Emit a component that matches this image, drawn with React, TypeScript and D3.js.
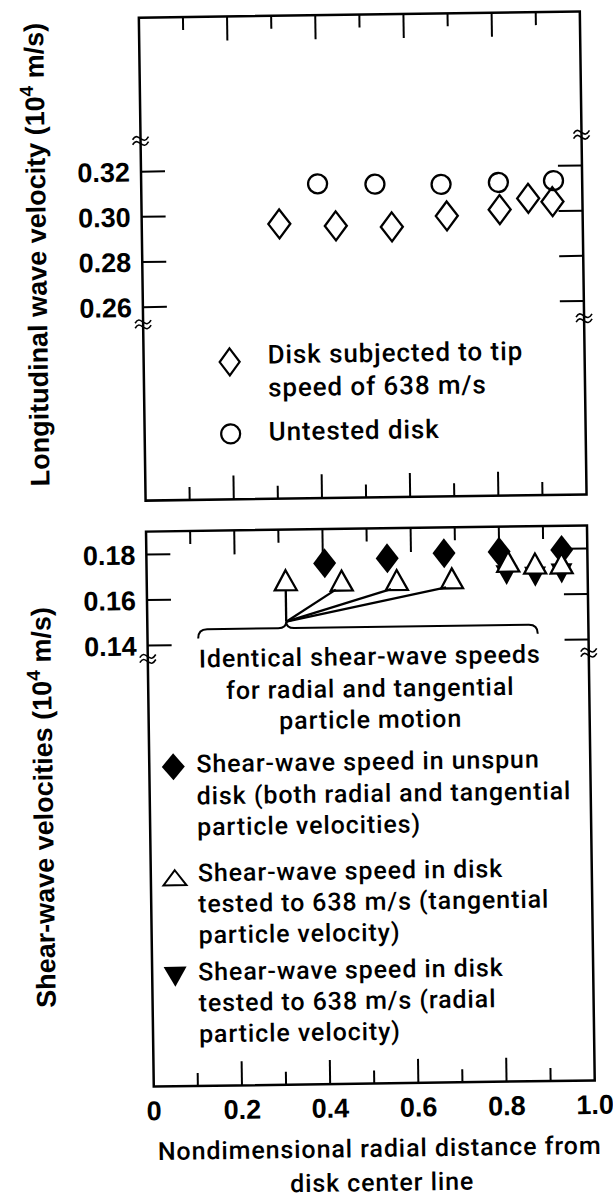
import React, { useEffect, useRef } from 'react';
import * as d3 from 'd3';

// top panel: longitudinal wave velocity (10^4 m/s)
const untestedX = [0.4, 0.53, 0.68, 0.81, 0.935];
const untestedV = [0.3135, 0.313, 0.3125, 0.313, 0.3135];
const spunX = [0.312, 0.44, 0.567, 0.692, 0.812, 0.877, 0.932];
const spunV = [0.296, 0.2948, 0.294, 0.2985, 0.301, 0.3058, 0.3042];

// bottom panel: shear-wave velocities (10^4 m/s)
const unspunX = [0.404, 0.546, 0.675, 0.8, 0.942];
const unspunV = [0.1751, 0.1769, 0.1788, 0.1791, 0.1795];
const tangX = [0.315, 0.442, 0.567, 0.692, 0.82, 0.881, 0.941];
const tangV = [0.1679, 0.1674, 0.1673, 0.1677, 0.1747, 0.1737, 0.1736];
const radialX = [0.816, 0.881, 0.941];
const radialV = [0.1688, 0.1679, 0.1692];

const xTicks = [0, 0.2, 0.4, 0.6, 0.8, 1.0];
const xTickLabels = ['0', '0.2', '0.4', '0.6', '0.8', '1.0'];
const topYTicks = [0.32, 0.3, 0.28, 0.26];
const bottomYTicks = [0.18, 0.16, 0.14];

const HEAD = 'Liberation Sans, Arial, sans-serif';
const BODY = 'Roboto, sans-serif';

const diamond = (cx: number, cy: number, hw: number, hh: number) =>
  `M${cx},${cy - hh}L${cx + hw},${cy}L${cx},${cy + hh}L${cx - hw},${cy}Z`;
const triUp = (cx: number, cy: number, w: number, h: number) =>
  `M${cx},${cy - h / 2}L${cx + w / 2},${cy + h / 2}L${cx - w / 2},${cy + h / 2}Z`;
const triDown = (cx: number, cy: number, w: number, h: number) =>
  `M${cx - w / 2},${cy - h / 2}L${cx + w / 2},${cy - h / 2}L${cx},${cy + h / 2}Z`;

const App = () => {
  const svgRef = useRef<SVGSVGElement>(null);

  useEffect(() => {
    if (!svgRef.current) return;
    const svg = d3.select(svgRef.current);
    svg.selectAll('*').remove();

    // slight tilt like the scanned original
    const root = svg.append('g').attr('transform', 'rotate(-0.8, 370, 600)');

    const x = d3.scaleLinear().domain([0, 1]).range([147, 588]);
    const yTop = d3.scaleLinear().domain([0.26, 0.32]).range([304, 168.5]);
    const yBot = d3.scaleLinear().domain([0.14, 0.18]).range([642.5, 551.5]);

    const panels = [
      { top: 14.5, bottom: 497.5, y: yTop, ticks: topYTicks, breaks: [138, 321.5] },
      { top: 528.5, bottom: 1083.5, y: yBot, ticks: bottomYTicks, breaks: [656] },
    ];

    const minor = d3.range(1, 10).map(i => i / 10);
    const fmt = d3.format('.2f');

    panels.forEach(p => {
      const g = root.append('g');
      g.append('rect')
        .attr('x', x(0)).attr('y', p.top)
        .attr('width', x(1) - x(0)).attr('height', p.bottom - p.top)
        .attr('fill', 'none').attr('stroke', '#000').attr('stroke-width', 2.5);

      // x ticks on top and bottom edges, pointing inward
      minor.forEach(v => {
        const len = Math.round(v * 10) % 2 === 0 ? 24 : 13;
        g.append('line').attr('x1', x(v)).attr('x2', x(v))
          .attr('y1', p.top).attr('y2', p.top + len)
          .attr('stroke', '#000').attr('stroke-width', 2);
        g.append('line').attr('x1', x(v)).attr('x2', x(v))
          .attr('y1', p.bottom).attr('y2', p.bottom - len)
          .attr('stroke', '#000').attr('stroke-width', 2);
      });

      // y ticks on both sides, labels on the left only
      p.ticks.forEach(v => {
        g.append('line').attr('x1', x(0)).attr('x2', x(0) + 24)
          .attr('y1', p.y(v)).attr('y2', p.y(v))
          .attr('stroke', '#000').attr('stroke-width', 2);
        g.append('line').attr('x1', x(1)).attr('x2', x(1) - 24)
          .attr('y1', p.y(v)).attr('y2', p.y(v))
          .attr('stroke', '#000').attr('stroke-width', 2);
        g.append('text').attr('x', x(0) - 11).attr('y', p.y(v))
          .attr('dy', '0.36em').attr('text-anchor', 'end')
          .attr('font-family', HEAD).attr('font-weight', 'bold')
          .attr('font-size', 27).text(fmt(v));
      });

      // axis break marks
      p.breaks.forEach(by => {
        [x(0), x(1)].forEach(bx => {
          [-2.5, 2.5].forEach(off => {
            g.append('path')
              .attr('d', `M${bx - 8},${by + off + 1}c3,-5 5,-3 8,-1s5,3 8,-2`)
              .attr('fill', 'none').attr('stroke', '#000').attr('stroke-width', 1.6);
          });
        });
      });
    });

    // top panel marks
    untestedX.forEach((v, i) => {
      root.append('circle').attr('cx', x(v)).attr('cy', yTop(untestedV[i])).attr('r', 9.5)
        .attr('fill', 'none').attr('stroke', '#000').attr('stroke-width', 2.3);
    });
    spunX.forEach((v, i) => {
      root.append('path').attr('d', diamond(x(v), yTop(spunV[i]), 11, 14.5))
        .attr('fill', 'none').attr('stroke', '#000').attr('stroke-width', 2.3);
    });

    // bottom panel marks
    unspunX.forEach((v, i) => {
      root.append('path').attr('d', diamond(x(v), yBot(unspunV[i]), 11.5, 15)).attr('fill', '#000');
    });
    radialX.forEach((v, i) => {
      root.append('path').attr('d', triDown(x(v), yBot(radialV[i]), 22, 20)).attr('fill', '#000');
    });
    tangX.forEach((v, i) => {
      root.append('path').attr('d', triUp(x(v), yBot(tangV[i]), 22, 20))
        .attr('fill', '#fff').attr('stroke', '#000').attr('stroke-width', 2.3);
    });

    // annotation: lines from the brace apex to the first four triangles
    const apex: [number, number] = [x(tangX[0]), 620.5];
    root.append('line').attr('x1', apex[0]).attr('y1', apex[1])
      .attr('x2', apex[0]).attr('y2', yBot(tangV[0]) + 10)
      .attr('stroke', '#000').attr('stroke-width', 2.3);
    const line = d3.line();
    [1, 2, 3].forEach(i => {
      root.append('path')
        .attr('d', line([apex, [x(tangX[i]) - 6, yBot(tangV[i]) + 9]]))
        .attr('stroke', '#000').attr('stroke-width', 2.3).attr('fill', 'none');
    });
    const bl = x(0.115), br = x(0.885);
    root.append('path')
      .attr('d', `M${bl},636Q${bl},627 ${bl + 9},627L${apex[0] - 8},627Q${apex[0]},627 ${apex[0]},${apex[1]}` +
        `Q${apex[0]},627 ${apex[0] + 8},627L${br - 9},627Q${br},627 ${br},636`)
      .attr('fill', 'none').attr('stroke', '#000').attr('stroke-width', 2);

    const body = (tx: number, ty: number, s: string, anchor = 'start') =>
      root.append('text').attr('x', tx).attr('y', ty).attr('text-anchor', anchor)
        .attr('font-family', BODY).attr('font-weight', 500).attr('font-size', 25)
        .attr('letter-spacing', 0.9).text(s);

    body(369, 665, 'Identical shear-wave speeds', 'middle');
    body(369, 697, 'for radial and tangential', 'middle');
    body(369, 728, 'particle motion', 'middle');

    // top legend
    root.append('path').attr('d', diamond(233, 360, 10, 13.5))
      .attr('fill', 'none').attr('stroke', '#000').attr('stroke-width', 2.2);
    body(271, 362, 'Disk subjected to tip').attr('font-size', 26);
    body(271, 395, 'speed of 638 m/s').attr('font-size', 26);
    root.append('circle').attr('cx', 233).attr('cy', 432).attr('r', 9.5)
      .attr('fill', 'none').attr('stroke', '#000').attr('stroke-width', 2.2);
    body(271, 439, 'Untested disk').attr('font-size', 26);

    // bottom legend
    root.append('path').attr('d', diamond(171, 764, 11.5, 13.5)).attr('fill', '#000');
    body(194, 770, 'Shear-wave speed in unspun');
    body(194, 802, 'disk (both radial and tangential');
    body(194, 833, 'particle velocities)');
    root.append('path').attr('d', triUp(171, 875, 23, 15))
      .attr('fill', 'none').attr('stroke', '#000').attr('stroke-width', 2);
    body(194, 879, 'Shear-wave speed in disk');
    body(194, 910, 'tested to 638 m/s (tangential');
    body(194, 941, 'particle velocity)');
    root.append('path').attr('d', triDown(170, 974, 23, 20)).attr('fill', '#000');
    body(193, 978, 'Shear-wave speed in disk');
    body(193, 1009, 'tested to 638 m/s (radial');
    body(193, 1040, 'particle velocity)');

    // x tick labels
    xTicks.forEach((v, i) => {
      root.append('text').attr('x', x(v)).attr('y', 1117).attr('text-anchor', 'middle')
        .attr('font-family', HEAD).attr('font-weight', 'bold').attr('font-size', 27)
        .text(xTickLabels[i]);
    });

    body(372, 1157, 'Nondimensional radial distance from', 'middle');
    body(374, 1191, 'disk center line', 'middle');

    // y axis titles
    const yTitle = (cx: number, cy: number, main: string) => {
      const t = root.append('text')
        .attr('transform', `translate(${cx},${cy}) rotate(-90)`)
        .attr('text-anchor', 'middle')
        .attr('font-family', HEAD).attr('font-weight', 'bold').attr('font-size', 27);
      t.append('tspan').text(main + ' (10');
      t.append('tspan').attr('dy', -11).attr('font-size', 19).text('4');
      t.append('tspan').attr('dy', 11).text(' m/s)');
    };
    yTitle(51, 250, 'Longitudinal wave velocity');
    yTitle(50, 803, 'Shear-wave velocities');
  }, []);

  return (
    <svg
      ref={svgRef}
      width={613}
      height={1200}
      viewBox="0 0 613 1200"
      style={{ position: 'absolute', left: 0, top: 0, background: '#fff' }}
    />
  );
};

export default App;
